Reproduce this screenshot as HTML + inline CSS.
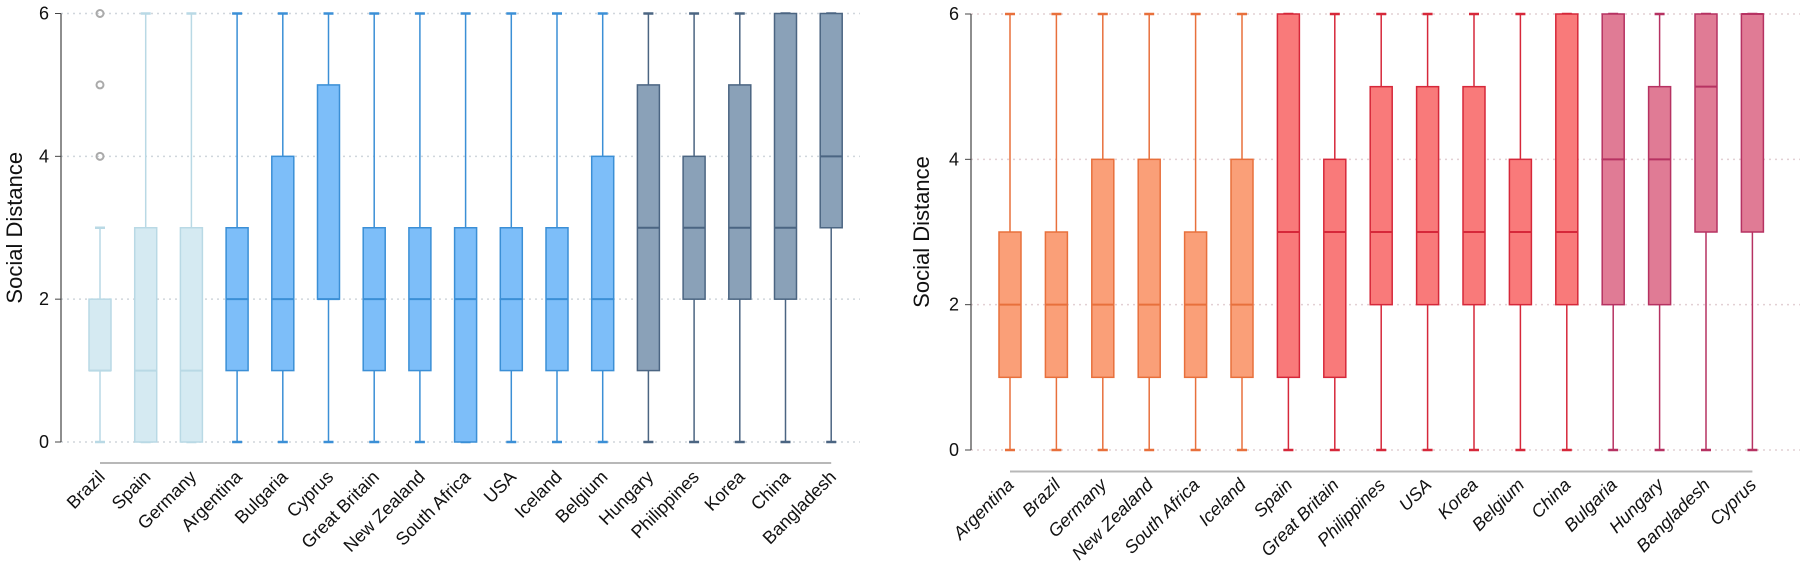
<!DOCTYPE html>
<html><head><meta charset="utf-8"><style>
html,body{margin:0;padding:0;background:#fff;}
svg{display:block;font-family:"Liberation Sans",sans-serif;}
</style></head><body>
<svg id="chart" width="1800" height="561" viewBox="0 0 1800 561" xmlns="http://www.w3.org/2000/svg"></svg>
<script>
const leftCats=["Brazil","Spain","Germany","Argentina","Bulgaria","Cyprus","Great Britain","New Zealand","South Africa","USA","Iceland","Belgium","Hungary","Philippines","Korea","China","Bangladesh"];
const leftMin=[0,0,0,0,0,0,0,0,0,0,0,0,0,0,0,0,0];
const leftQ1=[1,0,0,1,1,2,1,1,0,1,1,1,1,2,2,2,3];
const leftMed=[1,1,1,2,2,2,2,2,2,2,2,2,3,3,3,3,4];
const leftQ3=[2,3,3,3,4,5,3,3,3,3,3,4,5,4,5,6,6];
const leftMax=[3,6,6,6,6,6,6,6,6,6,6,6,6,6,6,6,6];
const leftGroup=[0,0,0,1,1,1,1,1,1,1,1,1,2,2,2,2,2];
const leftOutliers=[[0,4],[0,5],[0,6]];
const rightCats=["Argentina","Brazil","Germany","New Zealand","South Africa","Iceland","Spain","Great Britain","Philippines","USA","Korea","Belgium","China","Bulgaria","Hungary","Bangladesh","Cyprus"];
const rightMin=[0,0,0,0,0,0,0,0,0,0,0,0,0,0,0,0,0];
const rightQ1=[1,1,1,1,1,1,1,1,2,2,2,2,2,2,2,3,3];
const rightMed=[2,2,2,2,2,2,3,3,3,3,3,3,3,4,4,5,6];
const rightQ3=[3,3,4,4,3,4,6,4,5,5,5,4,6,6,5,6,6];
const rightMax=[6,6,6,6,6,6,6,6,6,6,6,6,6,6,6,6,6];
const rightGroup=[0,0,0,0,0,0,1,1,1,1,1,1,1,2,2,2,2];
const yTicks=[0,2,4,6];

const NS="http://www.w3.org/2000/svg";
const svg=document.getElementById('chart');
function mk(tag,attrs,parent){const e=document.createElementNS(NS,tag);for(const k in attrs)e.setAttribute(k,attrs[k]);(parent||svg).appendChild(e);return e;}

function drawPanel(p){
  const g=mk('g',{});
  
  
  const y=v=>p.y0+(p.y6-p.y0)*v/6;
  const x=i=>p.x0+i*p.step;
  yTicks.forEach(t=>{
    const gl=mk('line',{x1:p.axisX,x2:p.gridEnd,y1:y(t),y2:y(t),stroke:p.gridColor,'stroke-width':1.5,'stroke-dasharray':'2,4'},g);
    
    
    const tk=mk('line',{x1:p.axisX-6,x2:p.axisX,y1:y(t),y2:y(t),stroke:'#444','stroke-width':1},g);
    
    
    const tl=mk('text',{x:p.axisX-12,y:y(t)+6,'text-anchor':'end','font-size':18,fill:'#111'},g);
    tl.textContent=t;
    
    
  });
  const ax=mk('line',{x1:p.axisX,x2:p.axisX,y1:y(6),y2:y(0),stroke:'#444','stroke-width':1.2},g);
  
  
  const tt=mk('text',{x:0,y:0,'text-anchor':'middle','font-size':22,fill:'#111',transform:`translate(${p.titleX},${(y(0)+y(6))/2}) rotate(-90)`},g);
  tt.textContent='Social Distance';
  
  
  const bl=mk('line',{x1:x(0),x2:x(p.cats.length-1),y1:p.baseY,y2:p.baseY,stroke:'#b8b8b8','stroke-width':2},g);
  
  
  const hw=11;
  p.cats.forEach((c,i)=>{
    const cx=x(i), col=p.colors[p.group[i]];
    const bg=mk('g',{},g);
    
    
    mk('line',{x1:cx,x2:cx,y1:y(p.max[i]),y2:y(p.q3[i]),stroke:col.s,'stroke-width':1.5},bg);
    mk('line',{x1:cx,x2:cx,y1:y(p.q1[i]),y2:y(p.min[i]),stroke:col.s,'stroke-width':1.5},bg);
    mk('line',{x1:cx-5,x2:cx+5,y1:y(p.max[i]),y2:y(p.max[i]),stroke:col.s,'stroke-width':2.5},bg);
    mk('line',{x1:cx-5,x2:cx+5,y1:y(p.min[i]),y2:y(p.min[i]),stroke:col.s,'stroke-width':2.5},bg);
    mk('rect',{x:cx-hw,y:y(p.q3[i]),width:2*hw,height:Math.max(1,y(p.q1[i])-y(p.q3[i])),fill:col.f,stroke:col.s,'stroke-width':1.5},bg);
    mk('line',{x1:cx-hw,x2:cx+hw,y1:y(p.med[i]),y2:y(p.med[i]),stroke:col.s,'stroke-width':2},bg);
    const lb=mk('text',{x:0,y:0,'text-anchor':'end','font-size':18,fill:'#111','font-style':p.italic?'italic':'normal',transform:`translate(${cx+p.lblDx},${p.lblY}) rotate(-45)`},g);
    lb.textContent=c;
    
    
  });
  (p.outliers||[]).forEach(o=>{
    const c=mk('circle',{cx:x(o[0]),cy:y(o[1]),r:3.5,fill:'none',stroke:'#aaa','stroke-width':2},g);
    
    
  });
}
drawPanel({name:'left-panel',cats:leftCats,min:leftMin,q1:leftQ1,med:leftMed,q3:leftQ3,max:leftMax,group:leftGroup,outliers:leftOutliers,
  x0:100,step:45.7,y0:442,y6:13.5,axisX:61,gridEnd:860,baseY:463,titleX:22,lblDx:6,lblY:478,italic:false,gridColor:'#d0d6dc',
  colors:[{f:'#d5eaf2',s:'#b9d9e5'},{f:'#7dbef9',s:'#3b8fd6'},{f:'#8aa1b8',s:'#4b6582'}]});
drawPanel({name:'right-panel',cats:rightCats,min:rightMin,q1:rightQ1,med:rightMed,q3:rightQ3,max:rightMax,group:rightGroup,
  x0:1010,step:46.4,y0:450,y6:14,axisX:971,gridEnd:1800,baseY:471.5,titleX:929,lblDx:5,lblY:486,italic:true,gridColor:'#e2d0d4',
  colors:[{f:'#fa9f78',s:'#e8703c'},{f:'#f97a7a',s:'#d6283a'},{f:'#e07b95',s:'#b63262'}]});
</script>
</body></html>
